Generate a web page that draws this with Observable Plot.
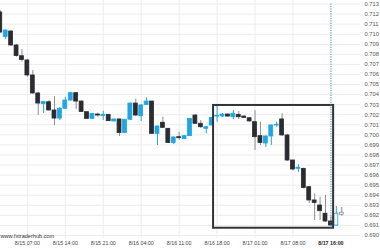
<!DOCTYPE html>
<html>
<head>
<meta charset="utf-8">
<script src="https://cdn.jsdelivr.net/npm/d3@7"></script>
<script src="https://cdn.jsdelivr.net/npm/@observablehq/plot@0.6"></script>
<style>
  html, body { margin: 0; padding: 0; background: #fff; }
  #chart { width: 380px; height: 250px; overflow: hidden; }
</style>
</head>
<body>
<div id="chart"></div>
<script>
// Hourly candles (index 0 = 8/15 02:00)
const open  = [0.71216,0.70972,0.71027,0.70888,0.70781,0.70739,0.70590,0.70411,0.70306,0.70324,
               0.70242,0.70162,0.70259,0.70341,0.70414,0.70331,0.70225,0.70159,0.70202,0.70187,
               0.70199,0.70133,0.70153,0.70018,0.70150,0.70311,0.70187,0.70297,0.70331,0.70010,
               0.70120,0.70060,0.69919,0.69977,0.69957,0.69987,0.70192,0.70110,0.70060,0.70093,
               0.70182,0.70182,0.70202,0.70175,0.70199,0.70182,0.70165,0.70126,0.69987,0.69914,
               0.69984,0.70093,0.70153,0.69994,0.69745,0.69663,0.69661,0.69480,0.69348,0.69298,
               0.69216,0.69139,0.69099,0.69206];
const high  = [0.71235,0.71042,0.71037,0.70898,0.70848,0.70749,0.70639,0.70421,0.70331,0.70341,
               0.70381,0.70272,0.70374,0.70421,0.70421,0.70336,0.70232,0.70212,0.70215,0.70235,
               0.70202,0.70157,0.70157,0.70153,0.70316,0.70356,0.70302,0.70368,0.70336,0.70088,
               0.70175,0.70063,0.69979,0.70026,0.69991,0.70162,0.70202,0.70143,0.70083,0.70172,
               0.70292,0.70212,0.70207,0.70242,0.70232,0.70187,0.70172,0.70242,0.70126,0.69989,
               0.70098,0.70126,0.70209,0.70003,0.69750,0.69705,0.69671,0.69487,0.69412,0.69381,
               0.69398,0.69189,0.69288,0.69278];
const low   = [0.71007,0.70947,0.70878,0.70773,0.70722,0.70573,0.70406,0.70192,0.70212,0.70237,
               0.70093,0.70143,0.70252,0.70336,0.70252,0.70222,0.70152,0.70152,0.70175,0.70143,
               0.70133,0.70128,0.69984,0.70013,0.70143,0.70182,0.70133,0.70292,0.70003,0.69894,
               0.70063,0.69914,0.69904,0.69944,0.69954,0.69984,0.70103,0.70063,0.70010,0.70088,
               0.70126,0.70172,0.70172,0.70150,0.70152,0.70162,0.70128,0.69845,0.69894,0.69874,
               0.69894,0.70076,0.69984,0.69735,0.69639,0.69626,0.69462,0.69318,0.69149,0.69149,
               0.69129,0.69090,0.69090,0.69192];
const close = [0.71017,0.71037,0.70888,0.70783,0.70744,0.70590,0.70411,0.70311,0.70326,0.70242,
               0.70162,0.70259,0.70341,0.70414,0.70331,0.70227,0.70159,0.70209,0.70192,0.70199,
               0.70136,0.70153,0.70018,0.70150,0.70311,0.70192,0.70292,0.70331,0.70010,0.70083,
               0.70070,0.69919,0.69974,0.69967,0.69987,0.70159,0.70110,0.70076,0.70076,0.70167,
               0.70189,0.70202,0.70182,0.70209,0.70175,0.70169,0.70133,0.69977,0.69919,0.69984,
               0.70093,0.70100,0.69994,0.69745,0.69656,0.69673,0.69472,0.69348,0.69323,0.69242,
               0.69139,0.69099,0.69216,0.69226];

// x-axis tick positions (candle index) and labels
const xTickIdx    = [5, 12, 19, 26, 33, 40, 47, 54];
const xTickLabels = ["8/15 07:00","8/15 14:00","8/15 21:00","8/16 04:00","8/16 11:00","8/16 18:00","8/17 01:00","8/17 08:00"];
const markerIdx   = 61;
const markerLabel = "8/17 16:00";
const yTicks      = [0.690,0.691,0.692,0.693,0.694,0.695,0.696,0.697,0.698,0.699,0.700,0.701,0.702,0.703,0.704,0.705,0.706,0.707,0.708,0.709,0.710,0.711,0.712,0.713];

// pattern box (candle range and price range)
const boxFrom = 39, boxTo = 61;
const boxHigh = 0.70292, boxLow = 0.69072;

const BLUE = "#1fa6e2", DARK = "#2b2b31";

const candles = open.map((o, i) => ({i, o, h: high[i], l: low[i], c: close[i]}));
const bodyFill = d => d.i > markerIdx ? "#fff" : (d.c >= d.o ? BLUE : DARK);
const bodyStroke = d => d.i > markerIdx + 1 ? "#8a8a8a" : (d.c >= d.o ? BLUE : DARK);
const wickColor = d => d.i > markerIdx + 1 ? "#8a8a8a" : (d.c >= d.o ? BLUE : "#8e8e8e");

const chart = Plot.plot({
  width: 380,
  height: 250,
  marginLeft: 0,
  marginRight: 20,
  marginTop: 0,
  marginBottom: 12,
  style: {fontFamily: "'Liberation Sans', Arial, sans-serif", background: "#fff"},
  x: {type: "linear", domain: [0.04, 66.46], axis: null},
  y: {domain: [0.6897, 0.71335], axis: null},
  marks: [
    Plot.gridY(yTicks, {stroke: "#ececec", strokeOpacity: 1}),
    Plot.gridX(xTickIdx, {stroke: "#ececec", strokeOpacity: 1}),
    Plot.ruleX(candles, {x: "i", y1: "l", y2: "h", stroke: wickColor, strokeWidth: 1, clip: true}),
    Plot.rect(candles, {
      x1: d => d.i - 0.36, x2: d => d.i + 0.36, y1: "o", y2: "c",
      fill: bodyFill, stroke: bodyStroke, strokeWidth: 0.8, clip: true
    }),
    Plot.rect([{x1: boxFrom + 0.35, x2: boxTo + 0.5, y1: boxLow, y2: boxHigh}], {
      x1: "x1", x2: "x2", y1: "y1", y2: "y2", fill: "none", stroke: "#333", strokeWidth: 2
    }),
    Plot.ruleX([markerIdx], {x: d => d, y1: 0.7130, y2: boxLow, stroke: "#4f8797", strokeWidth: 1, strokeDasharray: "1.2,1.2"}),
    Plot.axisY({anchor: "right", ticks: yTicks, tickFormat: d3.format(".3f"), tickSize: 0, tickPadding: 4, textAnchor: "start", fontSize: 5.8, fill: "#555", label: null}),
    Plot.axisX({anchor: "bottom", ticks: xTickIdx, tickFormat: (d, i) => xTickLabels[i], tickSize: 0, tickPadding: 2.5, fontSize: 5.3, fill: "#444", label: null}),
    Plot.text([markerLabel], {x: () => markerIdx, frameAnchor: "bottom", lineAnchor: "top", dy: 2.5, text: d => d, fontSize: 5.3, fontWeight: "bold", fill: "#222"}),
    Plot.text(["www.fxtraderhub.com"], {frameAnchor: "bottom-left", textAnchor: "start", dx: 0, dy: -1, text: d => d, fontSize: 5.6, fill: "#333"})
  ]
});
document.getElementById("chart").appendChild(chart);
</script>
</body>
</html>
